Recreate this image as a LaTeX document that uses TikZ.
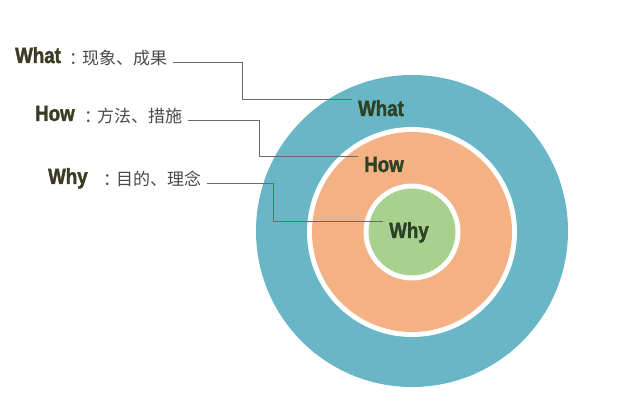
\documentclass[tikz,border=0pt]{standalone}
\usepackage{fontspec}
\newfontfamily\enfont[FakeStretch=0.85, BoldFeatures={FakeBold=1.6}]{Liberation Sans}
\newfontfamily\cjk{Noto Sans CJK SC}
\definecolor{ringteal}{HTML}{69B7C6}
\definecolor{ringorange}{HTML}{F4B183}
\definecolor{ringgreen}{HTML}{A9D18E}
\definecolor{olivetext}{HTML}{3A3B22}
\definecolor{greentext}{HTML}{2C4226}
\definecolor{desctext}{HTML}{4A4A4A}
\definecolor{leadgray}{HTML}{6A6A6A}
\newcommand{\colonkern}{：\kern-4pt}
\tikzset{
	keyword/.style={anchor=base west, inner sep=0pt, text=olivetext, font=\enfont\bfseries\fontsize{22}{24}\selectfont},
	desc/.style={anchor=base west, inner xsep=6pt, inner ysep=0pt, text=desctext, font=\cjk\fontsize{17}{19}\selectfont},
	inlabel/.style={anchor=base, inner xsep=6pt, inner ysep=0pt, text=greentext, font=\enfont\bfseries\fontsize{22}{24}\selectfont},
	leader/.style={draw=leadgray, line width=0.8pt}
}
\begin{document}
\begin{tikzpicture}[x=1pt, y=-1pt]
	\useasboundingbox[fill=white] (0,0) rectangle (630,403);

	% rings
	\fill[ringteal] (412,231) circle (156);
	\fill[white] (412,232) circle (105);
	\fill[ringorange] (412,232) circle (100);
	\fill[white] (412,232) circle (48.5);
	\fill[ringgreen] (412,232) circle (43.5);

	% labels on the left
	\node[keyword] (lwhat) at (15,63) {What};
	\node[desc] (dwhat) at (63,65) {\colonkern 现象、成果};
	\node[keyword] (lhow) at (35,121) {How};
	\node[desc] (dhow) at (78,123) {\colonkern 方法、措施};
	\node[keyword] (lwhy) at (48,184) {Why};
	\node[desc] (dwhy) at (97,186) {\colonkern 目的、理念};

	% labels in the rings
	\node[inlabel] (cwhat) at (381,116) {What};
	\node[inlabel] (chow) at (384,172) {How};
	\node[inlabel] (cwhy) at (409,238) {Why};

	% leaders
	\coordinate (kwhat) at (242,0);
	\coordinate (khow) at (259,0);
	\coordinate (kwhy) at (273,0);
	\draw[leader] (dwhat.mid east) -- (dwhat.mid east -| kwhat) |- (cwhat.north west);
	\draw[leader] (dhow.mid east) -- (dhow.mid east -| khow) |- (chow.north west);
	\draw[leader] (dwhy.mid east) -- (dwhy.mid east -| kwhy) |- (cwhy.north west);
\end{tikzpicture}
\end{document}
